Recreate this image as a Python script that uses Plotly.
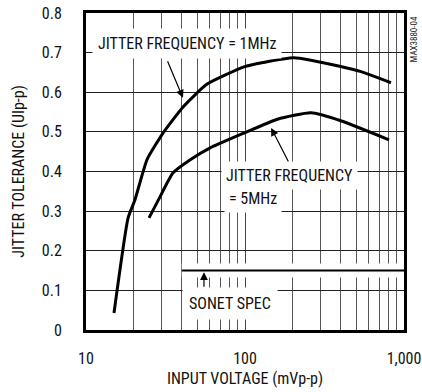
import math
import plotly.graph_objects as go

# ---- data ----
f1_x = [15, 18.4, 20.3, 24.2, 30.5, 40.8, 57.5, 98.6, 130, 203, 400, 537, 828]
f1_y = [0.043, 0.283, 0.328, 0.43, 0.497, 0.563, 0.62, 0.664, 0.675, 0.687, 0.665, 0.652, 0.624]

f5_x = [24.9, 29.2, 35.2, 45, 60, 98.6, 160, 260, 400, 805]
f5_y = [0.283, 0.336, 0.396, 0.429, 0.459, 0.497, 0.532, 0.548, 0.528, 0.48]

sonet_x = [40, 1000]
sonet_y = [0.15, 0.15]

x_tickvals = [10, 100, 1000]
x_ticktext = ["10", "100", "1,000"]
x_minor = [20, 30, 40, 50, 60, 70, 80, 90, 200, 300, 400, 500, 600, 700, 800, 900]
y_tickvals = [0, 0.1, 0.2, 0.3, 0.4, 0.5, 0.6, 0.7, 0.8]
y_ticktext = ["0", "0.1", "0.2", "0.3", "0.4", "0.5", "0.6", "0.7", "0.8"]

FONT = "Liberation Sans Narrow, Arial Narrow, Roboto Condensed, sans-serif"
L = math.log10

fig = go.Figure()
# white halo around SONET line
fig.add_trace(go.Scatter(x=sonet_x, y=sonet_y, mode="lines",
                         line=dict(color="white", width=14), hoverinfo="skip"))
fig.add_trace(go.Scatter(x=sonet_x, y=sonet_y, mode="lines",
                         line=dict(color="black", width=2)))
fig.add_trace(go.Scatter(x=f1_x, y=f1_y, mode="lines",
                         line=dict(color="black", width=3, shape="spline", smoothing=0.5)))
fig.add_trace(go.Scatter(x=f5_x, y=f5_y, mode="lines",
                         line=dict(color="black", width=3, shape="spline", smoothing=0.5)))

tf = dict(family=FONT, size=16, color="#111")
ann = [
    dict(x=L(43.4), y=0.722, text="JITTER FREQUENCY = 1MHz", showarrow=False,
         bgcolor="white", borderpad=5, font=tf),
    dict(x=L(40.7), y=0.586, text="", showarrow=True, ax=-16, ay=-38,
         arrowhead=2, arrowsize=1.3, arrowwidth=1.2, arrowcolor="black"),
    dict(x=L(190), y=0.391, text="JITTER FREQUENCY", showarrow=False,
         bgcolor="white", borderpad=4, font=tf),
    dict(x=L(112), y=0.333, text="= 5MHz", showarrow=False,
         bgcolor="white", borderpad=4, font=tf),
    dict(x=L(146), y=0.51, text="", showarrow=True, ax=18, ay=35,
         arrowhead=2, arrowsize=1.3, arrowwidth=1.2, arrowcolor="black"),
    dict(x=L(81), y=0.068, text="SONET SPEC", showarrow=False,
         bgcolor="white", borderpad=6, font=tf),
    dict(x=L(55.2), y=0.146, text="", showarrow=True, ax=0, ay=16,
         arrowhead=2, arrowsize=1.3, arrowwidth=1.2, arrowcolor="black"),
    dict(x=1.03, y=0.915, xref="paper", yref="paper", text="MAX3880-04",
         xanchor="center", yanchor="middle",
         showarrow=False, textangle=-90, font=dict(family=FONT, size=9, color="#222")),
]
for a in ann:
    if "xref" not in a:
        a["xref"] = "x"
        a["yref"] = "y"
    fig.add_annotation(**a)

fig.update_layout(
    width=422, height=392,
    margin=dict(l=86, r=18, t=13, b=62),
    paper_bgcolor="white", plot_bgcolor="white",
    showlegend=False,
    font=dict(family=FONT, size=16, color="#111"),
)
fig.update_xaxes(
    type="log", range=[1, 3], automargin=False,
    tickvals=x_tickvals, ticktext=x_ticktext,
    showgrid=True, gridcolor="#444", gridwidth=1,
    minor=dict(tickvals=x_minor, showgrid=True, gridcolor="#555", gridwidth=1, ticks=""),
    showline=True, linecolor="black", linewidth=3, mirror=True,
    ticks="", ticklabelstandoff=12,
    title=dict(text="INPUT VOLTAGE (mVp-p)", standoff=6, font=dict(size=16)),
    zeroline=False,
)
fig.update_yaxes(
    range=[0, 0.8], automargin=False,
    tickvals=y_tickvals, ticktext=y_ticktext,
    showgrid=True, gridcolor="#222", gridwidth=1,
    showline=True, linecolor="black", linewidth=3, mirror=True,
    ticks="", ticklabelstandoff=18,
    title=dict(text="JITTER TOLERANCE (UIp-p)", standoff=14, font=dict(size=16)),
    zeroline=False,
)

fig.write_html("out.html")
